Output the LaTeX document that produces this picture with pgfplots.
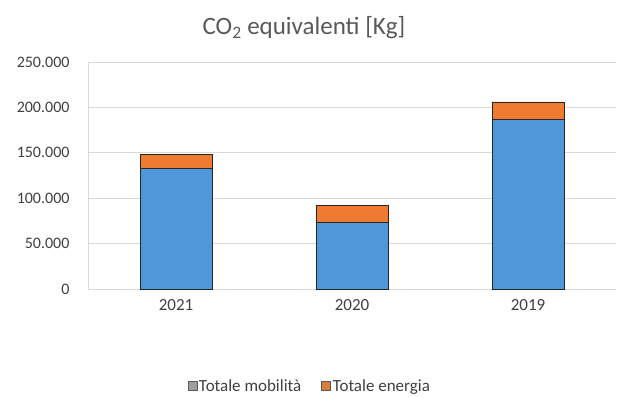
\documentclass[border=0pt]{standalone}
\usepackage{pgfplots}
\pgfplotsset{compat=1.18}
\usepackage{fontspec}
\setmainfont{Carlito}
\definecolor{mobblue}{HTML}{5097DA}
\definecolor{enorange}{HTML}{EE7B30}
\definecolor{gridgray}{HTML}{D9D9D9}
\definecolor{txtgray}{HTML}{404040}
\definecolor{titlegray}{HTML}{595959}

\begin{document}
\begin{tikzpicture}
\path[use as bounding box] (0,0) rectangle (621pt,397pt);
\begin{axis}[
  at={(88pt,108pt)}, anchor=south west,
  scale only axis, width=528pt, height=227pt,
  ybar stacked, bar width=72pt,
  xmin=-0.5, xmax=2.5, ymin=0, ymax=250000,
  xtick=data, xticklabels={2021,2020,2019},
  ytick={0,50000,100000,150000,200000,250000},
  scaled y ticks=false,
  /pgf/number format/.cd, fixed, 1000 sep={.}, assume math mode=true,
  /pgfplots/.cd,
  ymajorgrids, grid style={gridgray, line width=0.8pt},
  axis x line*=bottom, axis y line*=left,
  x axis line style={gridgray, line width=0.8pt, -},
  y axis line style={gridgray, line width=0.8pt, -},
  major tick length=0pt,
  yticklabel style={font=\fontsize{16}{18}\selectfont, text=txtgray, xshift=-15pt},
  xticklabel style={font=\fontsize{17}{19}\selectfont, text=txtgray, yshift=-7pt},
  legend columns=2,
  legend style={at={(0.42,-0.43)}, anchor=center, draw=none, fill=none,
    font=\fontsize{17}{19}\selectfont, text=txtgray,
    /tikz/every even column/.append style={column sep=18pt}},
  legend image code/.code={\draw[#1, draw=gray!70!black] (0pt,-4pt) rectangle (9pt,5pt);},
]
% stacked totals per year
\addplot[fill=mobblue, draw=black!85, line width=0.8pt, forget plot] coordinates {(0,132500) (1,73500) (2,187000)};
\addplot[fill=enorange, draw=black!85, line width=0.8pt, forget plot] coordinates {(0,16000) (1,19000) (2,19000)};
\addlegendimage{fill=gray!75}
\addlegendentry{Totale mobilità}
\addlegendimage{fill=enorange!80!gray}
\addlegendentry{Totale energia}
\end{axis}
\node[text=titlegray, font=\fontsize{25}{28}\selectfont] at (304pt,369pt) {CO\textsubscript{2} equivalenti [Kg]};
\end{tikzpicture}
\end{document}
